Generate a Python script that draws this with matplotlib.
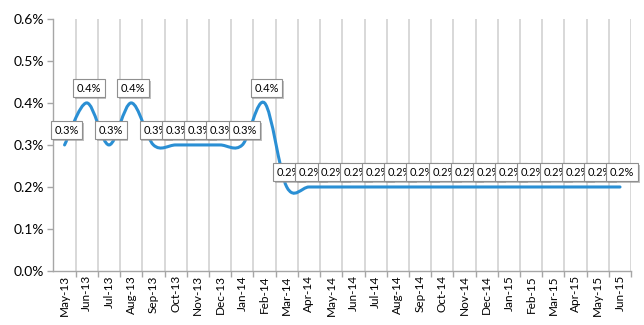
import matplotlib
matplotlib.use("Agg")
import matplotlib.pyplot as plt
import matplotlib.patheffects as pe
from matplotlib.path import Path
from matplotlib.patches import PathPatch
from matplotlib.ticker import FuncFormatter

months = ["May-13", "Jun-13", "Jul-13", "Aug-13", "Sep-13", "Oct-13", "Nov-13",
          "Dec-13", "Jan-14", "Feb-14", "Mar-14", "Apr-14", "May-14", "Jun-14",
          "Jul-14", "Aug-14", "Sep-14", "Oct-14", "Nov-14", "Dec-14", "Jan-15",
          "Feb-15", "Mar-15", "Apr-15", "May-15", "Jun-15"]
rates = [0.003, 0.004, 0.003, 0.004, 0.003, 0.003, 0.003, 0.003, 0.003, 0.004,
         0.002, 0.002, 0.002, 0.002, 0.002, 0.002, 0.002, 0.002, 0.002, 0.002,
         0.002, 0.002, 0.002, 0.002, 0.002, 0.002]

LINE = "#2a8fd4"
GRID = "#d6d6d6"
AXIS = "#a6a6a6"
FONT = "Lato"

fig = plt.figure(figsize=(6.44, 3.25), dpi=100)
ax = fig.add_axes([0.083, 0.166, 0.897, 0.776])

# smoothed line like Excel (catmull-rom style bezier through the points)
xs = list(range(len(rates)))
n = len(rates)
verts = [(xs[0], rates[0])]
codes = [Path.MOVETO]
for i in range(n - 1):
    x0, y0 = xs[max(i - 1, 0)], rates[max(i - 1, 0)]
    x1, y1 = xs[i], rates[i]
    x2, y2 = xs[i + 1], rates[i + 1]
    x3, y3 = xs[min(i + 2, n - 1)], rates[min(i + 2, n - 1)]
    c1 = (x1 + (x2 - x0) / 6, y1 + (y2 - y0) / 6)
    c2 = (x2 - (x3 - x1) / 6, y2 - (y3 - y1) / 6)
    verts += [c1, c2, (x2, y2)]
    codes += [Path.CURVE4] * 3
ax.add_patch(PathPatch(Path(verts, codes), fill=False, ec=LINE, lw=2.2,
                       capstyle="round", zorder=3))

# data labels
for x, y in zip(xs, rates):
    t = ax.annotate(f"{y * 100:.1f}%", (x, y), xytext=(1.5, 10.5),
                    textcoords="offset points", ha="center", va="center",
                    fontsize=8, family=FONT, color="black", zorder=5,
                    bbox=dict(boxstyle="square,pad=0.32", fc="white",
                              ec="#8f8f8f", lw=0.8))
    t.get_bbox_patch().set_path_effects(
        [pe.SimplePatchShadow(offset=(1.2, -1.2), shadow_rgbFace="#999999", alpha=0.6),
         pe.Normal()])

ax.set_xlim(-0.5, n - 0.5)
ax.set_ylim(0, 0.006)
ax.set_yticks([0, 0.001, 0.002, 0.003, 0.004, 0.005, 0.006])
ax.yaxis.set_major_formatter(FuncFormatter(lambda v, p: f"{v * 100:.1f}%"))
ax.set_xticks(xs)
ax.set_xticklabels(months, rotation=90, family=FONT, fontsize=8.5, color="black")
ax.set_xticks([i + 0.5 for i in range(n)], minor=True)
ax.grid(True, axis="x", which="minor", color=GRID, lw=1.3, zorder=0)
ax.tick_params(axis="x", which="major", length=0, pad=3)
ax.tick_params(axis="x", which="minor", length=4, color=AXIS, width=1)
ax.tick_params(axis="y", length=4, color=AXIS, width=1, pad=3)
for lbl in ax.get_yticklabels():
    lbl.set_family(FONT)
    lbl.set_fontsize(10)
    lbl.set_color("black")

for s in ["top", "right"]:
    ax.spines[s].set_visible(False)
for s in ["left", "bottom"]:
    ax.spines[s].set_color(AXIS)
    ax.spines[s].set_linewidth(1)
ax.set_axisbelow(True)

fig.savefig("out.png", dpi=100)
